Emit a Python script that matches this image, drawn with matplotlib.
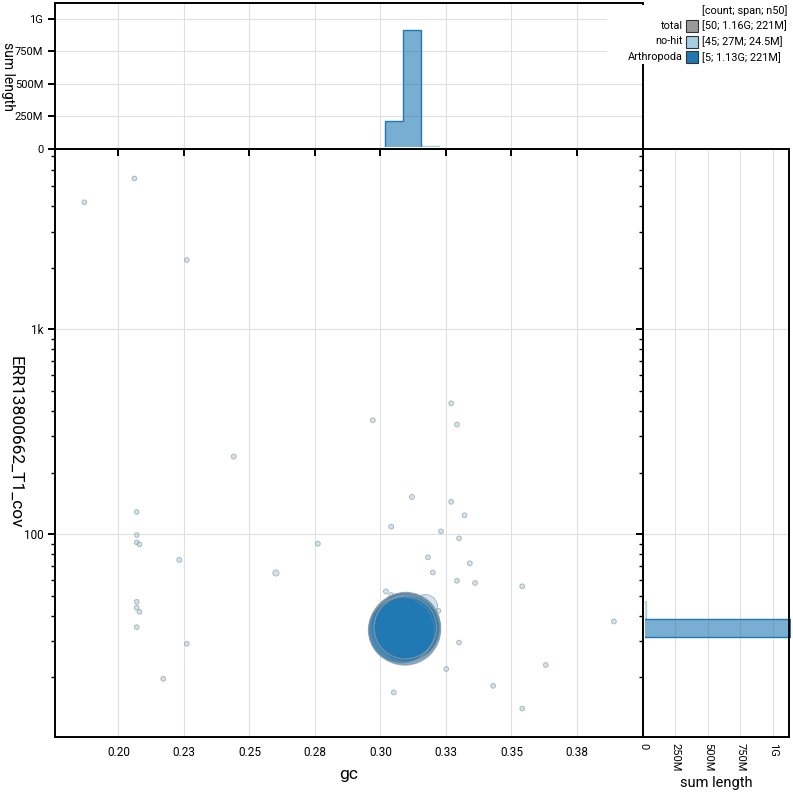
import numpy as np
import matplotlib
matplotlib.use('Agg')
import matplotlib.pyplot as plt
from matplotlib.patches import Rectangle
from matplotlib.ticker import FixedLocator, LogLocator, NullFormatter, FuncFormatter

plt.rcParams['font.family'] = ['Roboto', 'DejaVu Sans']

# no-hit contigs: gc, coverage, length
nohit_gc = [0.1870, 0.2061, 0.2261, 0.2070, 0.2070, 0.2070, 0.2080, 0.2232, 0.2070, 0.2070,
            0.2080, 0.2070, 0.2261, 0.2171, 0.2440, 0.2601, 0.2761, 0.3270, 0.2971, 0.3292,
            0.3120, 0.3270, 0.3321, 0.3041, 0.3231, 0.3300, 0.3181, 0.3341, 0.3200, 0.3292,
            0.3361, 0.3541, 0.3021, 0.3041, 0.3221, 0.3300, 0.3251, 0.3631, 0.3430, 0.3051,
            0.3541, 0.3891, 0.3113, 0.3152, 0.3171]
nohit_cov = [4170, 5450, 2180, 128.4, 99.1, 91.3, 89.3, 74.9, 46.8, 43.8,
             41.8, 35.2, 29.2, 19.7, 239.5, 64.7, 89.9, 436, 360, 343,
             152, 144, 123.7, 108.9, 103.3, 95.5, 77.1, 72.1, 65.1, 59.3,
             57.8, 55.7, 52.6, 50.5, 42.3, 29.6, 22.0, 23.0, 18.2, 16.9,
             14.1, 37.5, 40.0, 30.2, 44.2]
nohit_len = [52e3, 48e3, 55e3, 45e3, 42e3, 40e3, 44e3, 58e3, 47e3, 43e3,
             46e3, 50e3, 53e3, 49e3, 85e3, 310e3, 60e3, 51e3, 64e3, 56e3,
             78e3, 62e3, 57e3, 61e3, 55e3, 49e3, 58e3, 63e3, 54e3, 52e3,
             57e3, 60e3, 66e3, 59e3, 72e3, 48e3, 51e3, 53e3, 47e3, 55e3,
             44e3, 58e3, 60e3, 60e3, 24.5e6]

# Arthropoda contigs
arth_gc = [0.3080, 0.3093, 0.3097, 0.3100, 0.3095]
arth_cov = [34.0, 34.4, 35.3, 34.8, 35.0]
arth_len = [218e6, 260e6, 240e6, 221e6, 194e6]

legend_names = ['total', 'no-hit', 'Arthropoda']
legend_stats = ['[50; 1.16G; 221M]', '[45; 27M; 24.5M]', '[5; 1.13G; 221M]']
legend_cols = ['#999999', '#a6cee3', '#1f78b4']

gc_ticks = [0.200, 0.225, 0.250, 0.275, 0.300, 0.325, 0.350, 0.375]
gc_labels = ['0.20', '0.23', '0.25', '0.28', '0.30', '0.33', '0.35', '0.38']
len_ticks = [0, 250e6, 500e6, 750e6, 1e9]
len_labels = ['0', '250M', '500M', '750M', '1G']

xlim = (0.1758, 0.4002)
ylim = (10.3, 7590)
hlim = 1.125e9

gc_edges = 0.3018 + 0.0069 * np.arange(-19, 16)
cov_edges = 10 ** (1.4985 + 0.0874 * np.arange(-6, 30))

nohit_c = '#a6cee3'
arth_c = '#1f78b4'

W = H = 793
fig = plt.figure(figsize=(7.93, 7.93), dpi=100)

def fax(x0, y0, x1, y1):
    return fig.add_axes([x0 / W, 1 - y1 / H, (x1 - x0) / W, (y1 - y0) / H])

ax = fax(55, 149, 643, 736.5)
top = fax(55, 2.7, 643, 149)
right = fax(643, 149, 789, 736.5)

grid_c = '#e0e0e0'
for a in (ax, top, right):
    for s in a.spines.values():
        s.set_linewidth(1.4)
        s.set_color('black')
        s.set_zorder(10)
    a.set_axisbelow(True)

def rsize(L):
    r = 1.9 + 34 * np.sqrt(np.asarray(L) / 260e6)
    return (2 * r * 0.72) ** 2

# scatter
ax.scatter(nohit_gc, nohit_cov, s=rsize(nohit_len), facecolor=matplotlib.colors.to_rgba(nohit_c, 0.55),
           edgecolor=(0.55, 0.58, 0.62, 0.7), linewidth=0.6, zorder=3)
order = np.argsort(arth_len)[::-1]
ax.scatter(np.array(arth_gc)[order], np.array(arth_cov)[order],
           s=rsize(np.array(arth_len)[order]), facecolor=matplotlib.colors.to_rgba(arth_c, 0.6),
           edgecolor=(0.6, 0.6, 0.6, 0.8), linewidth=0.8, zorder=4)
ax.set_xlim(xlim)
ax.set_yscale('log')
ax.set_ylim(ylim)
ax.xaxis.set_major_locator(FixedLocator(gc_ticks))
ax.set_xticklabels(gc_labels)
ax.yaxis.set_major_locator(LogLocator(base=10))
ax.yaxis.set_minor_locator(LogLocator(base=10, subs=np.arange(2, 10)))
ax.yaxis.set_minor_formatter(NullFormatter())
ax.yaxis.set_major_formatter(FuncFormatter(lambda v, p: {10: '10', 100: '100', 1000: '1k'}.get(int(round(v)), '')))
ax.tick_params(axis='x', length=0, pad=7, labelsize=8.5)
ax.tick_params(axis='y', which='major', length=5, width=1.4, labelsize=8.5)
ax.tick_params(axis='y', which='minor', length=3, width=1)
ax.grid(True, which='major', color=grid_c, linewidth=0.8)

# top histogram
hist_kw = dict(histtype='stepfilled', linewidth=1)
_, _, p1 = top.hist(nohit_gc, bins=gc_edges, weights=nohit_len,
                    facecolor=matplotlib.colors.to_rgba(nohit_c, 0.6), edgecolor=nohit_c, **hist_kw)
_, _, p2 = top.hist(arth_gc, bins=gc_edges, weights=arth_len,
                    facecolor=matplotlib.colors.to_rgba(arth_c, 0.6), edgecolor=arth_c, **hist_kw)
clip_top = Rectangle((0, 0.012), 1, 1, transform=top.transAxes)
for p in list(p1) + list(p2):
    p.set_clip_path(clip_top)
top.set_xlim(xlim)
top.set_ylim(0, hlim)
top.xaxis.set_major_locator(FixedLocator(gc_ticks))
top.set_xticklabels([])
top.yaxis.set_major_locator(FixedLocator(len_ticks))
top.set_yticklabels(len_labels)
top.tick_params(axis='x', length=5, width=1.4)
top.tick_params(axis='y', length=5, width=1.4, labelsize=8)
top.grid(True, color=grid_c, linewidth=0.8)

# right histogram
_, _, p3 = right.hist(nohit_cov, bins=cov_edges, weights=nohit_len, orientation='horizontal',
                      facecolor=matplotlib.colors.to_rgba(nohit_c, 0.6), edgecolor=nohit_c, **hist_kw)
_, _, p4 = right.hist(arth_cov, bins=cov_edges, weights=arth_len, orientation='horizontal',
                      facecolor=matplotlib.colors.to_rgba(arth_c, 0.6), edgecolor=arth_c, **hist_kw)
clip_right = Rectangle((0.012, 0), 1, 1, transform=right.transAxes)
for p in list(p3) + list(p4):
    p.set_clip_path(clip_right)
right.set_yscale('log')
right.set_ylim(ylim)
right.set_xlim(0, hlim)
right.xaxis.set_major_locator(FixedLocator(len_ticks))
right.set_xticklabels(len_labels)
right.yaxis.set_major_locator(LogLocator(base=10))
right.yaxis.set_minor_locator(LogLocator(base=10, subs=np.arange(2, 10)))
right.yaxis.set_major_formatter(NullFormatter())
right.yaxis.set_minor_formatter(NullFormatter())
right.tick_params(axis='x', length=0, pad=5, labelsize=8, labelrotation=-90)
right.tick_params(axis='y', which='major', length=5, width=1.4)
right.tick_params(axis='y', which='minor', length=3, width=1)
right.grid(True, which='major', color=grid_c, linewidth=0.8)

# axis labels
fig.text(15.5 / W, 1 - 442.5 / H, 'ERR13800662_T1_cov', rotation=-90, ha='center', va='center', fontsize=12.5)
fig.text(8 / W, 1 - 76 / H, 'sum length', rotation=-90, ha='center', va='center', fontsize=10)
fig.text(349 / W, 1 - 775 / H, 'gc', ha='center', va='center', fontsize=12.5)
fig.text(716 / W, 1 - 783 / H, 'sum length', ha='center', va='center', fontsize=10.5)

# legend
fig.add_artist(Rectangle((607 / W, 1 - 64 / H), 186 / W, 59 / H, transform=fig.transFigure,
                         facecolor='white', edgecolor='none', zorder=5))
fig.text(702 / W, 1 - 11 / H, '[count; span; n50]', ha='left', va='center', fontsize=7.8, zorder=6)
for i, (nm, st, c) in enumerate(zip(legend_names, legend_stats, legend_cols)):
    yc = 25.7 + 15.8 * i
    fig.text(683 / W, 1 - yc / H, nm, ha='right', va='center', fontsize=7.8, zorder=6)
    fig.add_artist(Rectangle((686 / W, 1 - (yc + 6) / H), 12 / W, 12 / H, transform=fig.transFigure,
                             facecolor=c, edgecolor='#333333', linewidth=0.8, zorder=6))
    fig.text(702 / W, 1 - yc / H, st, ha='left', va='center', fontsize=7.8, zorder=6)

fig.savefig('out.png', dpi=100)
